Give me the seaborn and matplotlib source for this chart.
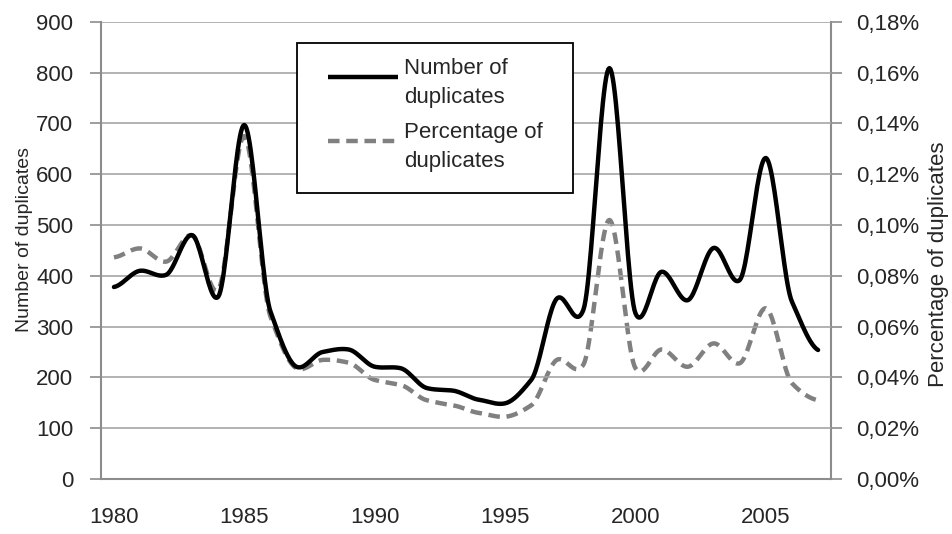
import numpy as np
import pandas as pd
import matplotlib
matplotlib.use("Agg")
import matplotlib.pyplot as plt
import matplotlib.ticker as mticker
import seaborn as sns

sns.set_theme(style="white")
plt.rcParams['font.family'] = ['Liberation Sans Narrow', 'Liberation Sans', 'DejaVu Sans']

years = list(range(1980, 2008))
num_duplicates = [378, 410, 402, 480, 359, 697, 330, 221, 250, 255, 221, 218, 179, 174,
                  156, 149, 195, 356, 333, 809, 326, 408, 352, 455, 392, 632, 349, 254]
pct_duplicates = [0.0873, 0.0908, 0.0856, 0.096, 0.0745, 0.135, 0.064, 0.0436, 0.0469, 0.0458,
                  0.039, 0.037, 0.031, 0.029, 0.026, 0.0245, 0.029, 0.047, 0.045, 0.102,
                  0.0436, 0.051, 0.0442, 0.0534, 0.0456, 0.0672, 0.0377, 0.031]
tick_years = [1980, 1985, 1990, 1995, 2000, 2005]
labels = ["Number of\nduplicates", "Percentage of\nduplicates"]


def smooth(xs, ys, c=0.3, n=24):
    # cubic Hermite smoothing between the points (spreadsheet style "smoothed line")
    xs = np.asarray(xs, float)
    ys = np.asarray(ys, float)
    m = np.zeros_like(ys)
    m[1:-1] = c * (ys[2:] - ys[:-2])
    m[0] = c * (ys[1] - ys[0])
    m[-1] = c * (ys[-1] - ys[-2])
    t = np.linspace(0, 1, n, endpoint=False)
    h00 = 2 * t ** 3 - 3 * t ** 2 + 1
    h10 = t ** 3 - 2 * t ** 2 + t
    h01 = -2 * t ** 3 + 3 * t ** 2
    h11 = t ** 3 - t ** 2
    out_x, out_y = [], []
    for i in range(len(xs) - 1):
        out_x.extend(xs[i] + t * (xs[i + 1] - xs[i]))
        out_y.extend(h00 * ys[i] + h10 * m[i] + h01 * ys[i + 1] + h11 * m[i + 1])
    out_x.append(xs[-1])
    out_y.append(ys[-1])
    return np.array(out_x), np.array(out_y)


pos = np.arange(len(years))
sx, sn = smooth(pos, num_duplicates)
_, sp = smooth(pos, pct_duplicates)
df = pd.DataFrame({"x": sx, "num": sn, "pct": sp})

fig, ax = plt.subplots(figsize=(9.52, 5.34), dpi=100)
fig.subplots_adjust(left=0.106, right=0.873, top=0.959, bottom=0.103)
ax2 = ax.twinx()

grey = "#8c8c8c"
for y in range(100, 901, 100):
    ax.axhline(y, color="#a6a6a6", lw=1.2, zorder=0)

sns.lineplot(data=df, x="x", y="num", ax=ax, color="black", lw=3.2, sort=False, legend=False)
sns.lineplot(data=df, x="x", y="pct", ax=ax2, color="#808080", lw=3.2, sort=False, legend=False)
ax2.lines[0].set_dashes([2.6, 1.5])

ax.set_xlim(-0.5, len(years) - 0.5)
ax.set_ylim(0, 900)
ax2.set_ylim(0, 0.18)
ax.set_yticks(range(0, 901, 100))
ax2.set_yticks(np.arange(0, 0.1801, 0.02))
ax2.yaxis.set_major_formatter(mticker.FuncFormatter(lambda v, p: f"{v:.2f}%".replace(".", ",")))

ax.set_xticks([years.index(y) for y in tick_years])
ax.set_xticklabels([str(y) for y in tick_years])
ax.set_xticks(np.arange(-0.5, len(years), 1), minor=True)
ax.tick_params(axis="x", which="major", length=0, pad=20, labelsize=16)
ax.tick_params(axis="x", which="minor", length=6, width=1.2, color=grey, direction="out")
ax.tick_params(axis="y", length=8, width=1.2, color=grey, labelsize=16, pad=12)
ax2.tick_params(axis="y", length=8, width=1.2, color=grey, labelsize=16, pad=10)

ax.set_xlabel("")
ax.set_ylabel("Number of duplicates", fontsize=14)
ax.yaxis.set_label_coords(-0.093, 0.523)
ax2.set_ylabel("Percentage of duplicates", fontsize=16, rotation=90)
ax2.yaxis.set_label_coords(1.133, 0.47)

for a in (ax, ax2):
    for s in a.spines.values():
        s.set_visible(False)
ax.spines["bottom"].set_visible(True)
ax.spines["bottom"].set_color(grey)
ax.spines["bottom"].set_linewidth(1.5)
ax.spines["left"].set_visible(True)
ax.spines["left"].set_color(grey)
ax.spines["left"].set_linewidth(1.5)
ax2.spines["right"].set_visible(True)
ax2.spines["right"].set_color(grey)
ax2.spines["right"].set_linewidth(1.5)

# legend box, handles aligned with the first text line
ax.set_zorder(ax2.get_zorder() + 1)
ax.patch.set_visible(False)
box = plt.Rectangle((0.2685, 0.626), 0.378, 0.328, transform=ax.transAxes,
                    facecolor="white", edgecolor="black", lw=1.3, zorder=10)
ax.add_patch(box)
ax.plot([0.311, 0.407], [0.88, 0.88], transform=ax.transAxes, color="black", lw=3.2,
        zorder=11, solid_capstyle="butt")
ax.plot([0.311, 0.407], [0.74, 0.74], transform=ax.transAxes, color="#808080", lw=3.2,
        zorder=11, dashes=[2.6, 1.5])
ax.text(0.415, 0.92, labels[0], transform=ax.transAxes, fontsize=16, va="top", ha="left",
        linespacing=1.45, zorder=12)
ax.text(0.415, 0.78, labels[1], transform=ax.transAxes, fontsize=16, va="top", ha="left",
        linespacing=1.45, zorder=12)

fig.savefig("out.png", dpi=100)
